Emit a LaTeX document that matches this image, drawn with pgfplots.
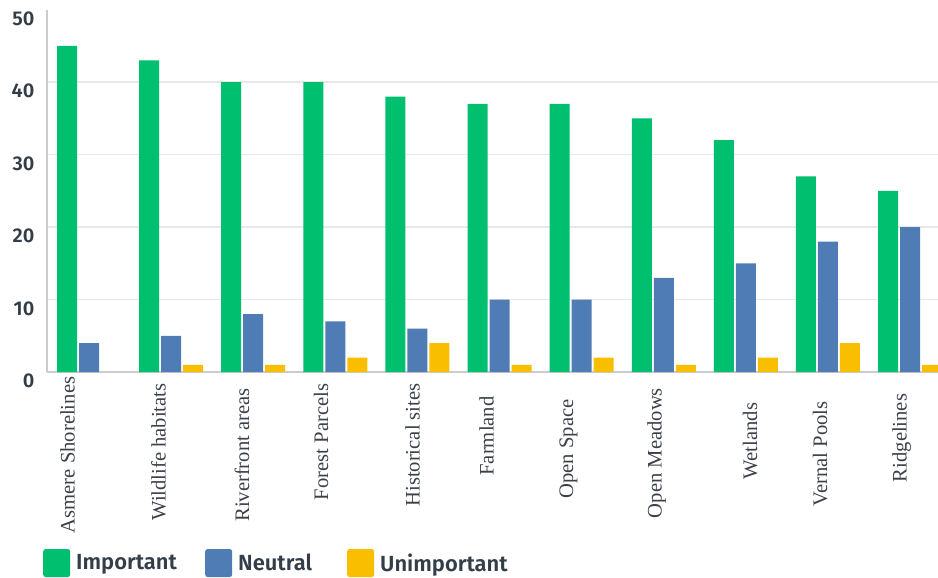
\documentclass[border=0pt]{standalone}
\usepackage{fontspec}
\usepackage{pgfplots}
\pgfplotsset{compat=1.18}
\setmainfont{Liberation Serif}
\newfontfamily\ticksf{Fira Sans SemiBold}
\definecolor{cgreen}{HTML}{00BF6F}
\definecolor{cblue}{HTML}{507CB6}
\definecolor{cyellow}{HTML}{F9BE00}
\definecolor{tc}{HTML}{333E48}
\definecolor{lc}{HTML}{3B4149}
\begin{document}
\begin{tikzpicture}
\useasboundingbox (-47bp,-206bp) rectangle (891bp,372bp);
\begin{axis}[
  at={(0,0)}, anchor=south west,
  scale only axis, width=891bp, height=362.5bp,
  xmin=-0.512, xmax=10.34, ymin=0, ymax=50,
  ybar=2bp, bar width=20bp,
  axis x line*=bottom, axis y line*=left,
  axis line style={draw=black!20, line width=1.8bp, -},
  ytick={0,10,20,30,40}, extra y ticks={50},
  extra y tick style={grid=none},
  ymajorgrids, grid style={draw=black!9, line width=1.2bp},
  major tick length=0pt,
  /pgf/number format/assume math mode=true,
  yticklabel style={font=\ticksf\fontsize{20}{20}\selectfont, text=tc, anchor=east, inner sep=0pt, yshift=-9bp},
  yticklabel shift=12.5bp,
  xtick={-0.262,0.847,1.864,2.826,3.940,4.842,5.840,6.912,8.051,8.904,9.897},
  xticklabels={
    {Asmere Shorelines\hspace*{38bp}},
    {Wildlife habitats\hspace*{32bp}},
    {Riverfront areas\hspace*{38bp}},
    {Forest Parcels\hspace*{12bp}},
    {Historical sites\hspace*{18bp}},
    {Farmland},
    {Open Space\hspace*{26bp}},
    {Open Meadows\hspace*{34bp}},
    {Wetlands\hspace*{10bp}},
    {Vernal Pools\hspace*{36bp}},
    {Ridgelines\hspace*{4bp}}},
  xticklabel style={rotate=90, anchor=center, font=\fontsize{20.7}{22}\selectfont, text=lc, inner sep=0pt},
  xticklabel shift=64bp,
  legend columns=3,
  legend style={at={(-0.00449,-0.5269)}, anchor=west, draw=none, fill=none, inner sep=0pt,
    nodes={inner sep=0pt, text=tc, font=\ticksf\fontsize{22}{22}\selectfont},
    /tikz/every odd column/.append style={column sep=6bp}},
  legend image code/.code={\fill[#1, rounded corners=2.5bp] (0bp,-14bp) rectangle (27bp,14bp);},
]
\addplot[fill=cgreen, draw=none] coordinates {(0,45) (1,43) (2,40) (3,40) (4,38) (5,37) (6,37) (7,35) (8,32) (9,27) (10,25)};
\addplot[fill=cblue, draw=none] coordinates {(0,4) (1,5) (2,8) (3,7) (4,6) (5,10) (6,10) (7,13) (8,15) (9,18) (10,20)};
\addplot[fill=cyellow, draw=none] coordinates {(1,1) (2,1) (3,2) (4,4) (5,1) (6,2) (7,1) (8,2) (9,4) (10,1)};
\legend{\makebox[129bp][l]{Important},\makebox[109bp][l]{Neutral},Unimportant}
\end{axis}
\end{tikzpicture}
\end{document}
